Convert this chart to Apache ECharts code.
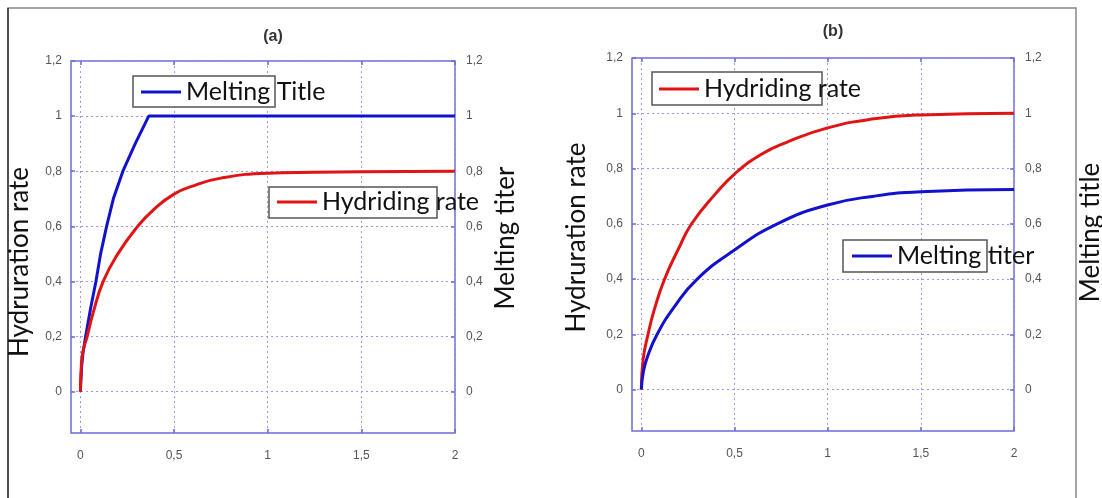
<!DOCTYPE html>
<html>
<head>
<meta charset="utf-8">
<script src="https://cdn.jsdelivr.net/npm/echarts@6/dist/echarts.min.js"></script>
<style>
  html, body { margin: 0; padding: 0; background: #fff; }
  #chart { width: 1102px; height: 498px; }
</style>
</head>
<body>
<div id="chart"></div>
<script>
// ticks
var xTicks = [0, 0.5, 1, 1.5, 2];
var yTicks = [0, 0.2, 0.4, 0.6, 0.8, 1, 1.2];

// panel (a)
var aMeltX = [0, 0.007, 0.014, 0.028, 0.054, 0.083, 0.108, 0.14, 0.176, 0.227, 0.293, 0.365, 0.6, 1, 1.5, 2];
var aMeltY = [0, 0.094, 0.14, 0.2, 0.3, 0.4, 0.5, 0.6, 0.7, 0.8, 0.9, 1, 1, 1, 1, 1];
var aHydX = [0, 0.004, 0.012, 0.036, 0.068, 0.122, 0.2, 0.306, 0.39, 0.5, 0.608, 0.75, 1, 1.25, 1.5, 2];
var aHydY = [0, 0.08, 0.14, 0.2, 0.286, 0.4, 0.5, 0.6, 0.66, 0.717, 0.748, 0.775, 0.793, 0.796, 0.798, 0.8];

// panel (b)
var bHydX = [0, 0.01, 0.036, 0.07, 0.125, 0.2, 0.27, 0.4, 0.5, 0.64, 0.78, 1, 1.25, 1.5, 2];
var bHydY = [0, 0.11, 0.2, 0.29, 0.4, 0.51, 0.6, 0.71, 0.78, 0.85, 0.895, 0.947, 0.98, 0.994, 1];
var bMeltX = [0, 0.01, 0.032, 0.085, 0.178, 0.3, 0.5, 0.73, 1, 1.25, 1.5, 2];
var bMeltY = [0, 0.06, 0.117, 0.2, 0.3, 0.4, 0.505, 0.6, 0.668, 0.7, 0.716, 0.724];

function pairs(xs, ys) {
    var out = [];
    for (var i = 0; i < xs.length; i++) out.push([xs[i], ys[i]]);
    return out;
}
function fmt(v) { return String(v).replace('.', ','); }

var frameColor = '#6c6cd6';
var gridColor = '#9a9ae8';
var labelStyle = { color: '#555', fontSize: 12, fontFamily: 'Liberation Sans' };
var legendText = { color: '#111', fontSize: 25, fontFamily: 'Lato', lineHeight: 28 };

function nameStyle(shift) {
    // shift > 0 moves the rotated name up, < 0 moves it down
    var pad = shift > 0 ? [0, 0, 0, 2 * shift] : [0, -2 * shift, 0, 0];
    return { color: '#111', fontSize: 26, fontFamily: 'Lato', padding: pad };
}

function xAxes(gi) {
    return [{
        type: 'value', gridIndex: gi, min: -0.05, max: 2, position: 'bottom',
        axisLine: { show: false, onZero: false },
        axisTick: { inside: true, length: 4, customValues: xTicks, lineStyle: { color: frameColor, width: 1.5 } },
        axisLabel: Object.assign({ margin: 17, customValues: xTicks, formatter: fmt }, labelStyle),
        splitLine: { show: true, lineStyle: { color: gridColor, type: [2, 3], width: 1 } }
    }, {
        type: 'value', gridIndex: gi, min: -0.05, max: 2, position: 'top',
        axisLine: { show: false, onZero: false },
        axisTick: { inside: true, length: 4, customValues: xTicks, lineStyle: { color: frameColor, width: 1.5 } },
        axisLabel: { show: false },
        splitLine: { show: false }
    }];
}
function yAxes(gi, leftName, rightName, leftGap, rightGap, leftShift, rightShift) {
    return [{
        type: 'value', gridIndex: gi, min: -0.15, max: 1.2, position: 'left',
        name: leftName, nameLocation: 'middle', nameGap: leftGap, nameTextStyle: nameStyle(leftShift),
        axisLine: { show: false, onZero: false },
        axisTick: { inside: true, length: 4, customValues: yTicks, lineStyle: { color: frameColor, width: 1.5 } },
        axisLabel: Object.assign({ margin: 9, customValues: yTicks, formatter: fmt }, labelStyle),
        splitLine: { show: true, lineStyle: { color: gridColor, type: [2, 3], width: 1 } }
    }, {
        type: 'value', gridIndex: gi, min: -0.15, max: 1.2, position: 'right',
        name: rightName, nameLocation: 'middle', nameGap: rightGap, nameTextStyle: nameStyle(rightShift),
        axisLine: { show: false, onZero: false },
        axisTick: { inside: true, length: 4, customValues: yTicks, lineStyle: { color: frameColor, width: 1.5 } },
        axisLabel: Object.assign({ margin: 11, customValues: yTicks, formatter: fmt }, labelStyle),
        splitLine: { show: false }
    }];
}
function legendAt(name, left, centerY) {
    return {
        data: [name], left: left, top: centerY - 14, padding: 0,
        icon: 'rect', itemWidth: 40, itemHeight: 3,
        textStyle: legendText, selectedMode: false
    };
}
function box(x, y, w, h) {
    return {
        type: 'rect', z: 3, silent: true,
        shape: { x: x, y: y, width: w, height: h },
        style: { fill: '#fff', stroke: '#555', lineWidth: 1.5 }
    };
}
function lineSeries(name, color, data, xi, yi, smooth) {
    return {
        name: name, type: 'line', data: data, xAxisIndex: xi, yAxisIndex: yi,
        showSymbol: false, smooth: smooth,
        lineStyle: { color: color, width: 3 }, itemStyle: { color: color }, z: 2
    };
}

var chart = echarts.init(document.getElementById('chart'));
chart.setOption({
    backgroundColor: '#fff',
    animation: false,
    title: [
        { text: '(a)', left: 268, top: 24, textAlign: 'center',
          textStyle: { fontSize: 16, fontWeight: 'bold', color: '#333', fontFamily: 'Liberation Sans' } },
        { text: '(b)', left: 828, top: 19, textAlign: 'center',
          textStyle: { fontSize: 16, fontWeight: 'bold', color: '#333', fontFamily: 'Liberation Sans' } }
    ],
    grid: [
        { left: 71, top: 61, width: 384, height: 372, outerBoundsMode: 'none',
          show: true, borderColor: frameColor, borderWidth: 1.5, backgroundColor: '#fff' },
        { left: 632, top: 58, width: 382, height: 373, outerBoundsMode: 'none',
          show: true, borderColor: frameColor, borderWidth: 1.5, backgroundColor: '#fff' }
    ],
    xAxis: xAxes(0).concat(xAxes(1)),
    yAxis: yAxes(0, 'Hydruration rate', 'Melting titer', 38, 38, -15, 9)
        .concat(yAxes(1, 'Hydruration rate', 'Melting title', 42, 64, 7, 12)),
    legend: [
        legendAt('Melting Title', 141, 92),
        legendAt('Hydriding rate', 277, 202),
        legendAt('Hydriding rate', 659, 89),
        legendAt('Melting titer', 852, 256)
    ],
    graphic: [
        { type: 'rect', z: -1, silent: true, shape: { x: 8, y: 8, width: 1068, height: 500 },
          style: { fill: 'none', stroke: '#888', lineWidth: 1.5 } },
        { type: 'line', z: -1, silent: true, shape: { x1: 8, y1: 8, x2: 8, y2: 498 },
          style: { stroke: '#333', lineWidth: 1.5 } },
        box(133, 76, 142, 31),
        box(269, 187, 168, 31),
        box(652, 72, 170, 33),
        box(843, 240, 144, 32)
    ],
    series: [
        lineSeries('Melting Title', '#1212cc', pairs(aMeltX, aMeltY), 0, 0, false),
        lineSeries('Hydriding rate', '#e01414', pairs(aHydX, aHydY), 0, 0, 0.5),
        lineSeries('Hydriding rate', '#e01414', pairs(bHydX, bHydY), 2, 2, 0.5),
        lineSeries('Melting titer', '#1212cc', pairs(bMeltX, bMeltY), 2, 2, 0.5)
    ]
});
</script>
</body>
</html>
